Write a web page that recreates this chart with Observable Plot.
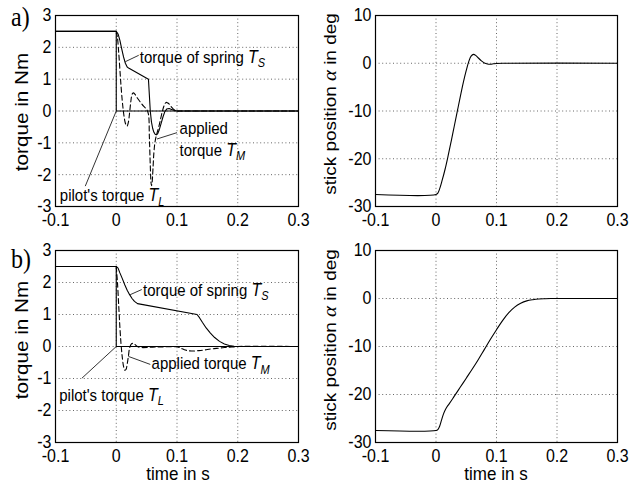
<!DOCTYPE html>
<html><head><meta charset="utf-8">
<script src="https://cdn.jsdelivr.net/npm/d3@7"></script>
<script src="https://cdn.jsdelivr.net/npm/@observablehq/plot@0.6"></script>
<style>
body{margin:0;background:#fff;}
#fig{position:relative;width:629px;height:490px;overflow:hidden;background:#fff;}
#fig svg{position:absolute;left:0;top:0;overflow:visible;}
</style></head><body><div id="fig"></div>
<script>
// ---- tick values ----
const xTicks = [-0.1, 0, 0.1, 0.2, 0.3];
const torqueTicks = [-3, -2, -1, 0, 1, 2, 3];
const alphaTicks = [-30, -20, -10, 0, 10];

// ---- panel a) torque ----
const pilotT = [-0.1, 0, 0, 0.3];
const pilotV = [2.5, 2.5, 0, 0];

const springA_t = [-0.1, 0, 0.003, 0.006, 0.009, 0.012, 0.015, 0.018, 0.021, 0.053, 0.0545, 0.056, 0.058, 0.060, 0.062, 0.064, 0.066, 0.068, 0.071, 0.074, 0.077, 0.080, 0.083, 0.087, 0.091, 0.095, 0.1, 0.11, 0.3];
const springA_v = [2.5, 2.5, 2.42, 2.22, 1.95, 1.7, 1.5, 1.38, 1.34, 1.0, 0.5, 0.0, -0.35, -0.55, -0.67, -0.73, -0.75, -0.72, -0.58, -0.38, -0.18, -0.02, 0.06, 0.08, 0.05, 0.02, 0.0, 0, 0];

const appliedA_t = [0, 0.002, 0.004, 0.006, 0.008, 0.010, 0.012, 0.014, 0.016, 0.018, 0.020, 0.022, 0.024, 0.026, 0.028, 0.031, 0.035, 0.040, 0.045, 0.050, 0.053, 0.0545, 0.056, 0.0572, 0.058, 0.059, 0.0605, 0.062, 0.064, 0.067, 0.070, 0.073, 0.076, 0.079, 0.082, 0.085, 0.088, 0.091, 0.094, 0.097, 0.1, 0.11, 0.3];
const appliedA_v = [2.5, 2.3, 1.85, 1.3, 0.75, 0.3, -0.05, -0.3, -0.43, -0.47, -0.35, -0.05, 0.3, 0.52, 0.57, 0.52, 0.4, 0.27, 0.15, 0.05, -0.1, -0.8, -1.7, -2.25, -2.35, -2.25, -1.8, -1.3, -0.95, -0.7, -0.5, -0.25, 0.0, 0.18, 0.27, 0.25, 0.2, 0.12, 0.06, 0.02, 0.0, 0, 0];

// ---- panel a) stick position ----
const alphaA_t = [-0.1, 0, 0.003, 0.006, 0.010, 0.015, 0.020, 0.025, 0.030, 0.035, 0.040, 0.045, 0.050, 0.054, 0.058, 0.062, 0.066, 0.070, 0.075, 0.080, 0.085, 0.090, 0.095, 0.1, 0.11, 0.3];
const alphaA_v = [-27.5, -27.5, -27.2, -26.3, -24.6, -22.2, -19.4, -16.4, -13.3, -10.2, -7.1, -4.1, -1.5, 0.3, 1.5, 1.85, 1.6, 1.1, 0.5, 0.05, -0.15, -0.2, -0.12, -0.05, 0, 0];

// ---- panel b) torque ----
const springB_t = [-0.1, 0, 0.003, 0.006, 0.010, 0.014, 0.018, 0.022, 0.026, 0.030, 0.035, 0.133, 0.137, 0.142, 0.148, 0.155, 0.162, 0.170, 0.178, 0.186, 0.194, 0.2, 0.3];
const springB_v = [2.5, 2.5, 2.45, 2.3, 2.12, 1.93, 1.76, 1.62, 1.5, 1.41, 1.34, 1.0, 0.9, 0.75, 0.58, 0.42, 0.28, 0.16, 0.08, 0.03, 0.01, 0, 0];

const appliedB_t = [0, 0.002, 0.004, 0.006, 0.008, 0.010, 0.012, 0.014, 0.016, 0.018, 0.020, 0.022, 0.025, 0.028, 0.031, 0.035, 0.040, 0.060, 0.080, 0.100, 0.106, 0.112, 0.118, 0.124, 0.130, 0.136, 0.145, 0.155, 0.165, 0.175, 0.185, 0.195, 0.2, 0.3];
const appliedB_v = [2.5, 2.0, 1.3, 0.6, 0.05, -0.35, -0.62, -0.74, -0.72, -0.55, -0.3, -0.05, 0.08, 0.1, 0.06, 0.0, -0.03, -0.02, -0.01, -0.01, -0.05, -0.1, -0.13, -0.14, -0.14, -0.13, -0.11, -0.08, -0.06, -0.04, -0.02, -0.01, 0, 0];

// ---- panel b) stick position ----
const alphaB_t = [-0.1, 0, 0.003, 0.006, 0.009, 0.012, 0.015, 0.018, 0.022, 0.030, 0.040, 0.050, 0.060, 0.070, 0.080, 0.090, 0.100, 0.110, 0.120, 0.130, 0.140, 0.150, 0.160, 0.170, 0.180, 0.190, 0.2, 0.3];
const alphaB_v = [-27.5, -27.5, -27.3, -26.6, -25.4, -24.2, -23.3, -22.6, -21.9, -20.4, -18.5, -16.6, -14.7, -12.7, -10.6, -8.5, -6.5, -4.6, -3.0, -1.8, -1.0, -0.5, -0.25, -0.1, -0.04, -0.01, 0, 0];

// ---- annotations (data coordinates: leader start, leader end, text anchor) ----
const annotA = [
  {parts: [["torque of spring "], ["T", "i"], ["S", "s"]], x1: 0.015, y1: 1.55, x2: 0.037, y2: 1.75, tx: 0.0395, ty: 1.70},
  {parts: [["applied"]], x1: 0.067, y1: -0.88, x2: 0.1, y2: -0.68, tx: 0.105, ty: -0.55},
  {parts: [["torque "], ["T", "i"], ["M", "s"]], tx: 0.105, ty: -1.22},
  {parts: [["pilot's torque "], ["T", "i"], ["L", "s"]], x1: -0.051, y1: -2.36, x2: 0, y2: 0, tx: -0.092, ty: -2.65}
];
const annotB = [
  {parts: [["torque of spring "], ["T", "i"], ["S", "s"]], x1: 0.023, y1: 1.62, x2: 0.042, y2: 1.78, tx: 0.045, ty: 1.77},
  {parts: [["applied torque "], ["T", "i"], ["M", "s"]], x1: 0.02, y1: -0.31, x2: 0.056, y2: -0.56, tx: 0.059, ty: -0.54},
  {parts: [["pilot's torque "], ["T", "i"], ["L", "s"]], x1: -0.0565, y1: -0.99, x2: 0, y2: 0, tx: -0.093, ty: -1.51}
];

const W = 629, H = 490;
const K = 1.15; // vertical text stretch of the reference figure
const FONT = "'Liberation Sans', Arial, Helvetica, sans-serif";
const SERIF = "'Liberation Serif', 'Times New Roman', serif";
const zip = (t, v) => t.map((d, i) => ({t: d, v: v[i]}));

function panel(frame, yDomain, yTicks, lines, leaders) {
  const [x0, x1, y0, y1] = frame;
  const marks = [
    Plot.gridX(xTicks, {stroke: "#000", strokeOpacity: 0.6, strokeDasharray: "1,2.6", strokeWidth: 1}),
    Plot.gridY(yTicks, {stroke: "#000", strokeOpacity: 0.6, strokeDasharray: "1,2.6", strokeWidth: 1}),
    Plot.axisX({ticks: xTicks, tickSize: 0, tickPadding: 6, fontSize: 16, tickFormat: d => String(d), label: null}),
    Plot.axisY({ticks: yTicks, tickSize: 0, tickPadding: 4, fontSize: 16, tickFormat: d => String(d), label: null}),
    ...lines.map(([data, dashed, curve]) => Plot.line(data, {x: "t", y: "v", stroke: "#000", strokeWidth: 1.1, strokeDasharray: dashed ? "5,3" : null, curve: curve || "linear"})),
    Plot.link(leaders.filter(d => d.x1 !== undefined), {x1: "x1", y1: "y1", x2: "x2", y2: "y2", stroke: "#000", strokeWidth: 0.8}),
    Plot.frame({stroke: "#000", strokeWidth: 1.2})
  ];
  const svg = Plot.plot({
    width: W, height: H,
    marginLeft: x0, marginRight: W - x1, marginTop: y0, marginBottom: H - y1,
    x: {domain: [-0.1, 0.3], label: null},
    y: {domain: yDomain, label: null},
    style: {fontFamily: FONT, background: "transparent", color: "#000", fontSize: "16px"},
    marks
  });
  // stretch the tick labels vertically like the reference
  d3.select(svg).selectAll("text").each(function () {
    const tr = this.getAttribute("transform");
    if (tr) this.setAttribute("transform", tr + ` scale(1,${K})`);
    else {
      const x = +this.getAttribute("x") || 0, y = +this.getAttribute("y") || 0;
      this.setAttribute("transform", `translate(${x},${y}) scale(1,${K}) translate(${-x},${-y})`);
    }
  });
  return svg;
}

function addAnnots(svg, annots) {
  const sx = svg.scale("x"), sy = svg.scale("y");
  const g = d3.select(svg).append("g").attr("font-family", FONT).attr("font-size", 15).attr("fill", "#000").attr("text-anchor", "start");
  for (const a of annots) {
    const t = g.append("text")
      .attr("transform", `translate(${sx.apply(a.tx)},${sy.apply(a.ty)}) scale(1,${K})`)
      .attr("dy", "0.36em").attr("text-anchor", "start");
    for (const [s, k] of a.parts) {
      const sp = t.append("tspan").text(s);
      if (k === "i") sp.attr("font-style", "italic").attr("font-size", 16);
      if (k === "s") sp.attr("font-style", "italic").attr("font-size", 11).attr("dy", 4);
    }
  }
}

function yLabel(svg, cx, cy, parts, size) {
  const t = d3.select(svg).append("text").attr("transform", `translate(${cx},${cy}) scale(1,${K}) rotate(-90)`)
    .attr("text-anchor", "middle").attr("dy", "0.35em").attr("font-family", FONT).attr("font-size", size).attr("fill", "#000");
  for (const [s, k] of parts) {
    const sp = t.append("tspan").text(s);
    if (k === "g") sp.attr("font-family", SERIF).attr("font-style", "italic").attr("font-size", size + 1.5);
  }
}
function xLabel(svg, cx, y, s) {
  d3.select(svg).append("text").attr("transform", `translate(${cx},${y}) scale(1,1.1)`).attr("text-anchor", "middle")
    .attr("font-family", FONT).attr("font-size", 17).attr("fill", "#000").text(s);
}
function panelLabel(svg, x, y, s) {
  d3.select(svg).append("text").attr("transform", `translate(${x},${y}) scale(1,${K})`).attr("text-anchor", "start")
    .attr("font-family", SERIF).attr("font-size", 24).attr("fill", "#000").text(s);
}

const fig = document.getElementById("fig");

const tl = panel([55, 298, 15, 206], [-3, 3], torqueTicks,
  [[zip(pilotT, pilotV)], [zip(springA_t, springA_v)], [zip(appliedA_t, appliedA_v), true, "catmull-rom"]], annotA);
addAnnots(tl, annotA);
yLabel(tl, 22, 112, [["torque in Nm"]], 18);
panelLabel(tl, 11, 26, "a)");
fig.appendChild(tl);

const tr = panel([375, 617, 15, 206], [-30, 10], alphaTicks,
  [[zip(alphaA_t, alphaA_v), false, "catmull-rom"]], []);
yLabel(tr, 330, 104, [["stick position "], ["α", "g"], [" in deg"]], 16.5);
fig.appendChild(tr);

const bl = panel([55, 298, 250, 442], [-3, 3], torqueTicks,
  [[zip(pilotT, pilotV)], [zip(springB_t, springB_v)], [zip(appliedB_t, appliedB_v), true, "catmull-rom"]], annotB);
addAnnots(bl, annotB);
yLabel(bl, 22, 340, [["torque in Nm"]], 18);
xLabel(bl, 178, 480, "time in s");
panelLabel(bl, 11, 268, "b)");
fig.appendChild(bl);

const br = panel([375, 617, 250, 442], [-30, 10], alphaTicks,
  [[zip(alphaB_t, alphaB_v), false, "catmull-rom"]], []);
yLabel(br, 330, 340, [["stick position "], ["α", "g"], [" in deg"]], 16.5);
xLabel(br, 496, 480, "time in s");
fig.appendChild(br);
</script>
</body></html>
